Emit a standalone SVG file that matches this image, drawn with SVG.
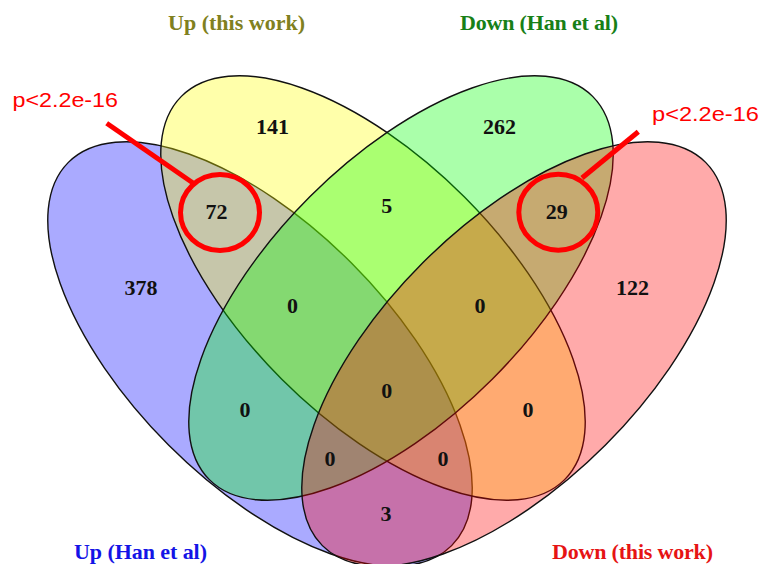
<svg xmlns="http://www.w3.org/2000/svg" width="763" height="564" viewBox="0 0 763 564">
  <style>
    .set { stroke: #111; stroke-width: 1.4; fill-opacity: 0.333; }
    .num { font-family: "Liberation Serif", "Times New Roman", serif; font-weight: bold; font-size: 22px; fill: #111; text-anchor: middle; }
    .cat { font-family: "Liberation Serif", "Times New Roman", serif; font-weight: bold; font-size: 22px; }
    .pval { font-family: "Liberation Sans", Arial, sans-serif; font-size: 21px; fill: #ff0000; }
    .mark { fill: none; stroke: #ff0000; stroke-width: 5; }
    .lead { stroke: #ff0000; stroke-width: 5; stroke-linecap: butt; }
  </style>

  <rect width="763" height="564" fill="#ffffff"/>

  <!-- four-set ellipses, drawn in order so the overlaps blend -->
  <g id="set-up-han">
    <ellipse class="set" cx="260" cy="354" rx="271" ry="129" transform="rotate(45 260 354)" fill="#0000ff"/>
  </g>
  <g id="set-up-this-work">
    <ellipse class="set" cx="373" cy="288" rx="271" ry="129" transform="rotate(45 373 288)" fill="#ffff00"/>
  </g>
  <g id="set-down-han">
    <ellipse class="set" cx="401" cy="288" rx="271" ry="129" transform="rotate(-45 401 288)" fill="#00ff00"/>
  </g>
  <g id="set-down-this-work">
    <ellipse class="set" cx="514" cy="354" rx="271" ry="129" transform="rotate(-45 514 354)" fill="#ff0000"/>
  </g>

  <!-- region counts -->
  <g id="counts">
    <text class="num" x="272.5" y="134">141</text>
    <text class="num" x="499.5" y="134">262</text>
    <text class="num" x="216.5" y="219">72</text>
    <text class="num" x="386.7" y="213">5</text>
    <text class="num" x="556.7" y="219">29</text>
    <text class="num" x="141" y="295">378</text>
    <text class="num" x="632.5" y="295">122</text>
    <text class="num" x="292.5" y="313">0</text>
    <text class="num" x="480" y="313">0</text>
    <text class="num" x="386.7" y="398">0</text>
    <text class="num" x="245" y="417">0</text>
    <text class="num" x="528" y="417">0</text>
    <text class="num" x="330" y="466">0</text>
    <text class="num" x="443" y="466">0</text>
    <text class="num" x="386" y="521">3</text>
  </g>

  <!-- category labels -->
  <g id="labels">
    <text class="cat" x="168" y="30" fill="#808020" textLength="137">Up (this work)</text>
    <text class="cat" x="460" y="30" fill="#178017" textLength="158">Down (Han et al)</text>
    <text class="cat" x="74" y="559" fill="#1414e6" textLength="133">Up (Han et al)</text>
    <text class="cat" x="552" y="559" fill="#e61414" textLength="161">Down (this work)</text>
  </g>

  <!-- significance call-outs -->
  <g id="connectors">
    <line class="lead" x1="106.7" y1="123.3" x2="193" y2="183"/>
    <line class="lead" x1="638.3" y1="131.7" x2="582" y2="178"/>
  </g>
  <g id="callout-left">
    <ellipse class="mark" cx="220" cy="212.5" rx="39.5" ry="38"/>
    <text class="pval" x="12.5" y="106.5" textLength="105.5" lengthAdjust="spacingAndGlyphs">p&lt;2.2e-16</text>
  </g>
  <g id="callout-right">
    <ellipse class="mark" cx="558.3" cy="212.2" rx="39.5" ry="38"/>
    <text class="pval" x="652" y="121" textLength="107" lengthAdjust="spacingAndGlyphs">p&lt;2.2e-16</text>
  </g>
</svg>
